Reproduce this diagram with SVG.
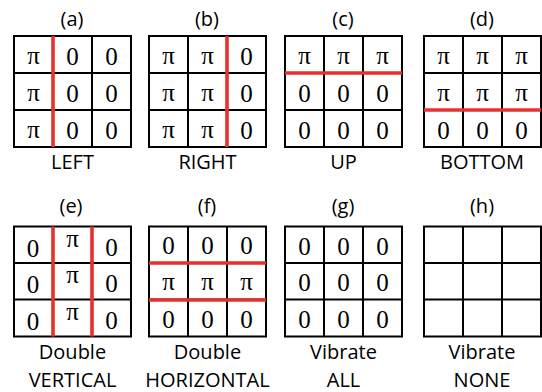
<svg xmlns="http://www.w3.org/2000/svg" width="542" height="392" viewBox="0 0 542 392">
<style>
.g{fill:none;stroke:#000;stroke-width:2}
.r{stroke:#e8302e;stroke-width:3.6;fill:none}
.c{font-family:"Liberation Serif","Times New Roman",serif;font-size:25px;text-anchor:middle;fill:#000}
.l{font-family:"Open Sans","Liberation Sans",Arial,sans-serif;font-size:20px;text-anchor:middle;fill:#000}
</style>
<defs>
<g id="grid1">
<rect class="g" x="0" y="0" width="117" height="111"/>
<path class="g" d="M39 0V111M78 0V111M0 37H117M0 74H117"/>
</g>
<g id="grid2">
<rect class="g" x="0" y="0" width="117" height="110"/>
<path class="g" d="M39 0V110M78 0V110M0 36.5H117M0 73H117"/>
</g>
</defs>
<rect width="542" height="392" fill="#fff"/>

<g id="panel-a">
<text class="l" x="72" y="26">(a)</text>
<use href="#grid1" x="14" y="36"/>
<text class="c" x="33.5" y="64">π</text><text class="c" x="72.5" y="65">0</text><text class="c" x="111.5" y="65">0</text>
<text class="c" x="33.5" y="101">π</text><text class="c" x="72.5" y="102">0</text><text class="c" x="111.5" y="102">0</text>
<text class="c" x="33.5" y="138">π</text><text class="c" x="72.5" y="139">0</text><text class="c" x="111.5" y="139">0</text>
<path class="r" d="M53 36V147"/>
<text class="l" x="72.5" y="169">LEFT</text>
</g>

<g id="panel-b">
<text class="l" x="207" y="26">(b)</text>
<use href="#grid1" x="149" y="36"/>
<text class="c" x="168.5" y="64">π</text><text class="c" x="207.5" y="64">π</text><text class="c" x="246.5" y="65">0</text>
<text class="c" x="168.5" y="101">π</text><text class="c" x="207.5" y="101">π</text><text class="c" x="246.5" y="102">0</text>
<text class="c" x="168.5" y="138">π</text><text class="c" x="207.5" y="138">π</text><text class="c" x="246.5" y="139">0</text>
<path class="r" d="M227 36V147"/>
<text class="l" x="207.5" y="169">RIGHT</text>
</g>

<g id="panel-c">
<text class="l" x="343" y="26">(c)</text>
<use href="#grid1" x="285" y="36"/>
<text class="c" x="304.5" y="64">π</text><text class="c" x="343.5" y="64">π</text><text class="c" x="382.5" y="64">π</text>
<text class="c" x="304.5" y="102">0</text><text class="c" x="343.5" y="102">0</text><text class="c" x="382.5" y="102">0</text>
<text class="c" x="304.5" y="139">0</text><text class="c" x="343.5" y="139">0</text><text class="c" x="382.5" y="139">0</text>
<path class="r" d="M285 73H402"/>
<text class="l" x="343.5" y="169">UP</text>
</g>

<g id="panel-d">
<text class="l" x="482" y="26">(d)</text>
<use href="#grid1" x="424" y="36"/>
<text class="c" x="443.5" y="64">π</text><text class="c" x="482.5" y="64">π</text><text class="c" x="521.5" y="64">π</text>
<text class="c" x="443.5" y="101">π</text><text class="c" x="482.5" y="101">π</text><text class="c" x="521.5" y="101">π</text>
<text class="c" x="443.5" y="139">0</text><text class="c" x="482.5" y="139">0</text><text class="c" x="521.5" y="139">0</text>
<path class="r" d="M424 110H541"/>
<text class="l" x="482" y="169">BOTTOM</text>
</g>

<g id="panel-e">
<text class="l" x="71" y="213">(e)</text>
<use href="#grid2" x="14" y="226.5"/>
<text class="c" x="33" y="257">0</text><text class="c" x="72.5" y="247">π</text><text class="c" x="111.5" y="256">0</text>
<text class="c" x="33" y="293">0</text><text class="c" x="72.5" y="283">π</text><text class="c" x="111.5" y="292">0</text>
<text class="c" x="33" y="330">0</text><text class="c" x="72.5" y="320">π</text><text class="c" x="111.5" y="329">0</text>
<path class="r" d="M53 226.5V336.5M92 226.5V336.5"/>
<text class="l" x="72.5" y="359">Double</text>
<text class="l" x="72.5" y="387">VERTICAL</text>
</g>

<g id="panel-f">
<text class="l" x="207" y="213">(f)</text>
<use href="#grid2" x="149" y="226.5"/>
<text class="c" x="168.5" y="254">0</text><text class="c" x="207.5" y="254">0</text><text class="c" x="246.5" y="254">0</text>
<text class="c" x="168.5" y="290">π</text><text class="c" x="207.5" y="290">π</text><text class="c" x="246.5" y="290">π</text>
<text class="c" x="168.5" y="328">0</text><text class="c" x="207.5" y="328">0</text><text class="c" x="246.5" y="328">0</text>
<path class="r" d="M149 263H266M149 300H266"/>
<text class="l" x="207.5" y="359">Double</text>
<text class="l" x="207.5" y="387">HORIZONTAL</text>
</g>

<g id="panel-g">
<text class="l" x="343" y="213">(g)</text>
<use href="#grid2" x="285" y="226.5"/>
<text class="c" x="304.5" y="255">0</text><text class="c" x="343.5" y="255">0</text><text class="c" x="382.5" y="255">0</text>
<text class="c" x="304.5" y="291">0</text><text class="c" x="343.5" y="291">0</text><text class="c" x="382.5" y="291">0</text>
<text class="c" x="304.5" y="328">0</text><text class="c" x="343.5" y="328">0</text><text class="c" x="382.5" y="328">0</text>
<text class="l" x="343.5" y="359">Vibrate</text>
<text class="l" x="343.5" y="387">ALL</text>
</g>

<g id="panel-h">
<text class="l" x="482" y="213">(h)</text>
<use href="#grid2" x="424" y="226.5"/>
<text class="l" x="482" y="359">Vibrate</text>
<text class="l" x="482" y="387">NONE</text>
</g>
</svg>
